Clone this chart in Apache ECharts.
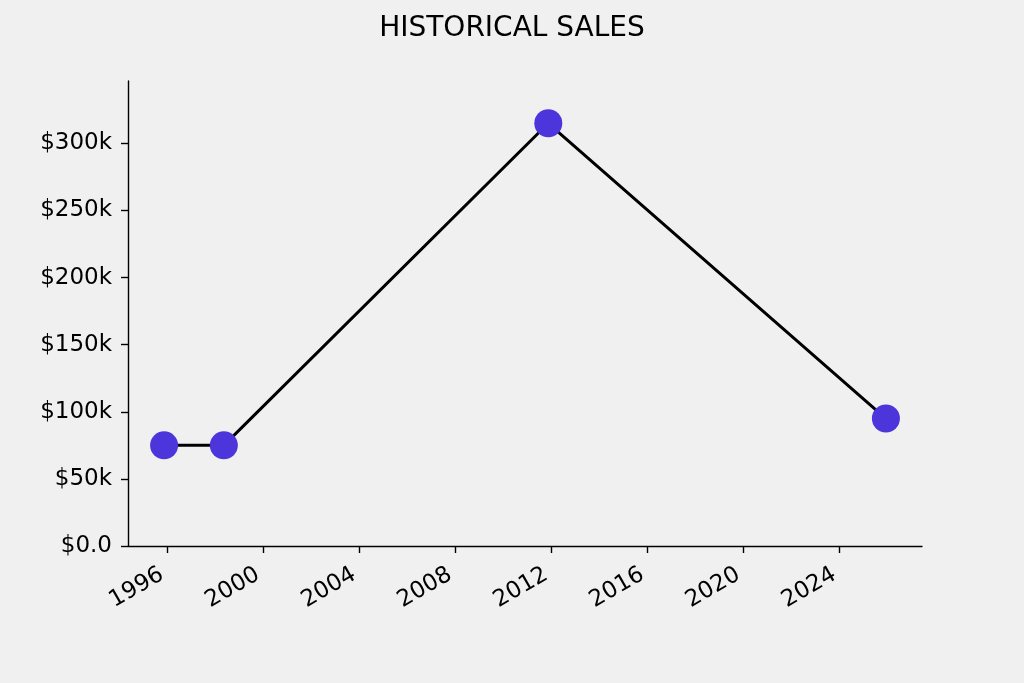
<!DOCTYPE html>
<html>
<head>
<meta charset="utf-8">
<script src="https://cdn.jsdelivr.net/npm/echarts@6/dist/echarts.min.js"></script>
<style>
html,body{margin:0;padding:0;background:#f0f0f0;}
#chart{width:1024px;height:683px;}
</style>
</head>
<body>
<div id="chart"></div>
<script>
const title = 'HISTORICAL SALES';
const saleDates = ['1995-11-15', '1998-05-12', '2011-11-14', '2025-12-05'];
const salesValues = [75000, 75000, 315000, 95000];
const xTickYears = [1996, 2000, 2004, 2008, 2012, 2016, 2020, 2024];
const yTickValues = [0, 50000, 100000, 150000, 200000, 250000, 300000];

function decimalYear(s) {
  const d = new Date(s + 'T00:00:00Z');
  const y = d.getUTCFullYear();
  const start = Date.UTC(y, 0, 1), end = Date.UTC(y + 1, 0, 1);
  return y + (d.getTime() - start) / (end - start);
}
const xs = saleDates.map(decimalYear);
const xMinData = Math.min(...xs), xMaxData = Math.max(...xs);
const span = xMaxData - xMinData;
const xMin = xMinData - span * 0.05, xMax = xMaxData + span * 0.05;
const yMax = Math.max(...salesValues) * 1.1;

const font = 'DejaVu Sans';
const chart = echarts.init(document.getElementById('chart'), null, {renderer: 'canvas'});
chart.setOption({
  backgroundColor: '#f0f0f0',
  animation: false,
  title: {
    text: title, left: 'center', top: 10,
    textStyle: {fontFamily: font, fontSize: 28, fontWeight: 'normal', color: '#000'}
  },
  grid: {left: 128, right: 102, top: 81, bottom: 137, containLabel: false},
  xAxis: {
    type: 'value', min: xMin, max: xMax,
    splitLine: {show: false},
    axisLine: {lineStyle: {color: '#000', width: 1.4}},
    axisTick: {show: true, length: 7, lineStyle: {color: '#000', width: 1.4}, customValues: xTickYears},
    axisLabel: {
      customValues: xTickYears, rotate: 30, margin: 24, padding: [0, 6, 0, 0],
      fontFamily: font, fontSize: 23, color: '#000',
      formatter: v => String(Math.round(v))
    }
  },
  yAxis: {
    type: 'value', min: 0, max: yMax,
    splitLine: {show: false},
    axisLine: {show: true, lineStyle: {color: '#000', width: 1.4}},
    axisTick: {show: true, length: 7, lineStyle: {color: '#000', width: 1.4}, customValues: yTickValues},
    axisLabel: {
      customValues: yTickValues, margin: 16, padding: [12, 0, 0, 0],
      fontFamily: font, fontSize: 23, color: '#000',
      formatter: v => v === 0 ? '$0.0' : '$' + Math.round(v / 1000) + 'k'
    }
  },
  series: [{
    type: 'line',
    data: xs.map((x, i) => [x, salesValues[i]]),
    lineStyle: {color: '#000', width: 3},
    symbol: 'circle', symbolSize: 28,
    itemStyle: {color: '#4b35db', borderWidth: 0},
    z: 3
  }]
});
</script>
</body>
</html>
